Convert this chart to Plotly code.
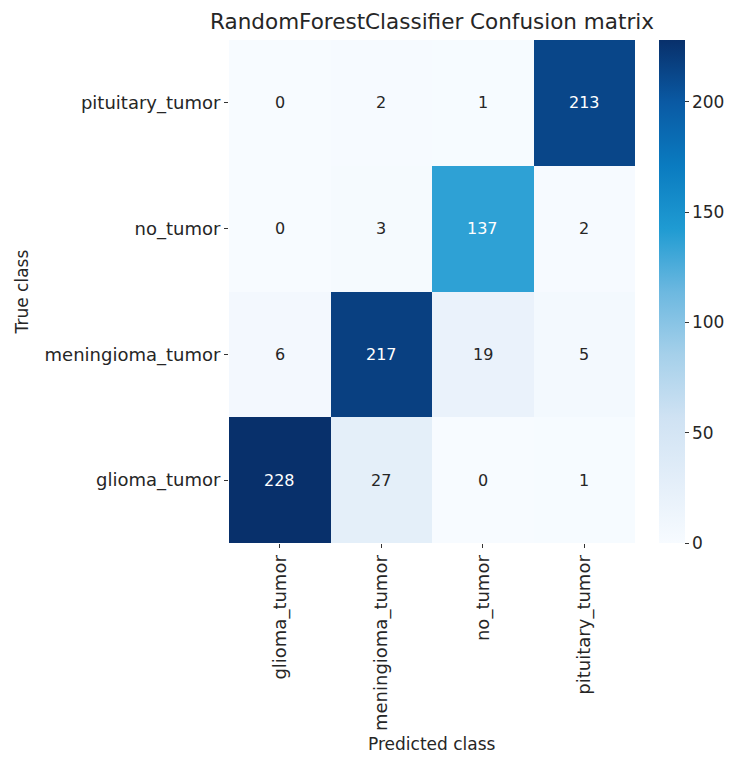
import plotly.graph_objects as go

classes = ["glioma_tumor", "meningioma_tumor", "no_tumor", "pituitary_tumor"]
# rows = true class (bottom to top), columns = predicted class
matrix = [
    [228, 27, 0, 1],
    [6, 217, 19, 5],
    [0, 3, 137, 2],
    [0, 2, 1, 213],
]
title_text = "RandomForestClassifier Confusion matrix"
x_title = "Predicted class"
y_title = "True class"

blues = ['#f7fbff', '#e3eef9', '#cfe2f3', '#a5d0ea', '#6cb8e0',
         '#1f9bd2', '#0a7bc0', '#0a5aa4', '#08306b']
cscale = [[i / (len(blues) - 1), c] for i, c in enumerate(blues)]
zmax = max(max(r) for r in matrix)

FONT = "DejaVu Sans"
TXT = "#262626"

fig = go.Figure(go.Heatmap(
    z=matrix, x=classes, y=classes,
    colorscale=cscale, zmin=0, zmax=zmax,
    xgap=0, ygap=0,
    colorbar=dict(
        x=1.059, xanchor="left", xref="paper",
        y=0.5, yanchor="middle", len=1.0, lenmode="fraction",
        thickness=26, outlinewidth=0, ypad=0, xpad=0,
        tickvals=[0, 50, 100, 150, 200],
        ticks="outside", ticklen=4, tickwidth=1, tickcolor="#333",
        tickfont=dict(family=FONT, size=17, color=TXT),
    ),
    hoverinfo="skip",
))

annotations = []
for i, row in enumerate(matrix):
    for j, v in enumerate(row):
        color = "white" if v / zmax > 0.55 else TXT
        annotations.append(dict(
            x=classes[j], y=classes[i], text=str(v), showarrow=False,
            font=dict(family=FONT, size=16, color=color),
        ))

annotations.append(dict(
    x=0.5, y=-0.40, xref="paper", yref="paper", text=x_title, showarrow=False,
    yanchor="middle", font=dict(family=FONT, size=17, color=TXT),
))
annotations.append(dict(
    x=-0.51, y=0.5, xref="paper", yref="paper", text=y_title, showarrow=False,
    textangle=-90, xanchor="center", font=dict(family=FONT, size=17, color=TXT),
))

fig.update_layout(
    width=733, height=758,
    margin=dict(l=229, r=98, t=40, b=215, autoexpand=False),
    paper_bgcolor="white", plot_bgcolor="white",
    title=dict(text=title_text, x=0.5, xref="paper", y=1 - 21 / 758,
               yref="container", yanchor="middle",
               font=dict(family=FONT, size=21.5, color=TXT)),
    xaxis=dict(tickangle=-90, ticks="outside", ticklen=4, tickcolor="#333",
               showgrid=False, zeroline=False, showline=False,
               tickfont=dict(family=FONT, size=18, color=TXT)),
    yaxis=dict(ticks="outside", ticklen=4, tickcolor="#333",
               showgrid=False, zeroline=False, showline=False,
               tickfont=dict(family=FONT, size=18, color=TXT)),
    annotations=annotations,
)

fig.write_html("out.html")
